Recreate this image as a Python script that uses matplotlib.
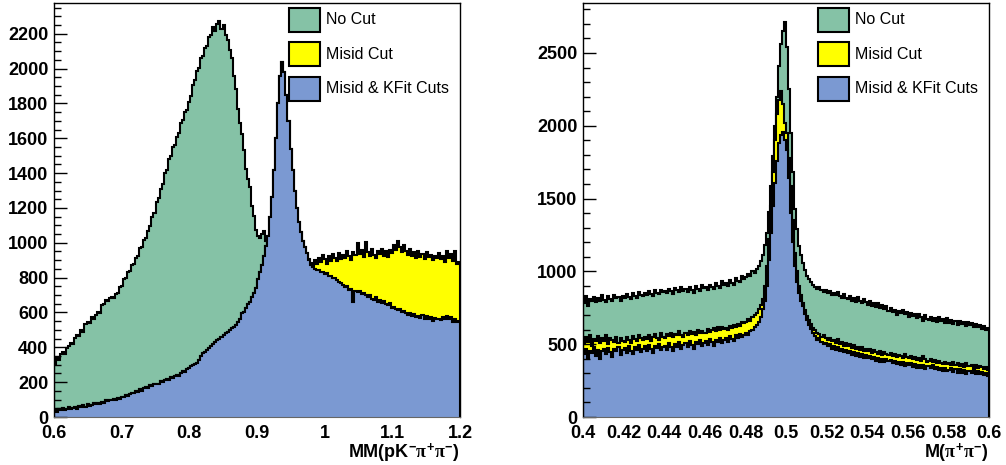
import numpy as np
import matplotlib
matplotlib.use("Agg")
import matplotlib.pyplot as plt
from matplotlib.patches import Rectangle
from matplotlib.ticker import MultipleLocator, FormatStrFormatter

plt.rcParams["font.family"] = "Liberation Sans"
plt.rcParams["font.weight"] = "bold"
plt.rcParams["mathtext.fontset"] = "custom"
plt.rcParams["mathtext.rm"] = "Liberation Sans:bold"
plt.rcParams["mathtext.it"] = "Liberation Serif"

# ---- MM(pK- pi+ pi-) histograms, 0.6 - 1.2, bin width 0.003 ----
mm_range = (0.6, 1.2)
mm_nocut = [
    305, 340, 330, 362, 372, 360, 398, 410, 425, 418,
    455, 472, 466, 498, 490, 532, 545, 540, 575, 562,
    588, 605, 598, 640, 648, 672, 665, 684, 690, 682,
    705, 712, 748, 752, 790, 795, 830, 838, 872, 880,
    910, 925, 968, 978, 1018, 1030, 1068, 1095, 1150, 1172,
    1232, 1258, 1310, 1338, 1398, 1420, 1478, 1498, 1548, 1560,
    1605, 1632, 1690, 1702, 1750, 1762, 1810, 1842, 1905, 1932,
    1985, 2002, 2058, 2070, 2118, 2132, 2180, 2190, 2238, 2215,
    2255, 2270, 2228, 2250, 2195, 2165, 2105, 2060, 1960, 1885,
    1765, 1685, 1625, 1530, 1425, 1365, 1318, 1210, 1155, 1075,
    1040, 1025, 1050, 1065, 1010, 985, 950, 920, 900, 880,
    860, 840, 820, 805, 790, 775, 765, 755, 745, 735,
    725, 715, 705, 695, 685, 675, 665, 658, 650, 645,
    640, 635, 630, 625, 620, 615, 610, 605, 600, 595,
    590, 585, 580, 576, 572, 568, 564, 560, 556, 552,
    548, 544, 540, 536, 532, 528, 524, 520, 516, 512,
    508, 504, 500, 497, 494, 491, 488, 485, 482, 479,
    476, 473, 470, 468, 466, 464, 462, 460, 458, 456,
    454, 452, 450, 448, 446, 444, 442, 440, 438, 436,
    434, 432, 430, 428, 426, 424, 422, 420, 418, 416,
]
mm_kfit = [
    42, 30, 45, 38, 50, 40, 48, 55, 44, 52,
    58, 48, 62, 55, 68, 60, 72, 66, 70, 78,
    74, 82, 76, 88, 80, 95, 90, 100, 96, 104,
    100, 110, 106, 115, 112, 125, 120, 132, 138, 135,
    148, 145, 158, 152, 165, 170, 168, 182, 178, 190,
    192, 188, 205, 200, 212, 218, 215, 230, 226, 238,
    242, 238, 255, 262, 258, 275, 282, 290, 298, 305,
    312, 325, 350, 368, 372, 385, 398, 405, 420, 428,
    440, 445, 462, 470, 482, 488, 500, 512, 518, 530,
    548, 560, 595, 605, 625, 648, 660, 690, 712, 740,
    790, 830, 870, 922, 980, 1040, 1150, 1260, 1420, 1600,
    1800, 1960, 2035, 1980, 1850, 1700, 1540, 1420, 1300, 1200,
    1120, 1060, 1010, 975, 940, 900, 872, 860, 852, 845,
    842, 830, 835, 818, 825, 808, 812, 795, 800, 786,
    775, 768, 760, 748, 752, 730, 735, 660, 722, 715,
    722, 705, 712, 698, 690, 702, 680, 672, 690, 662,
    670, 655, 668, 648, 640, 655, 625, 632, 620, 612,
    618, 600, 608, 595, 585, 598, 580, 590, 575, 582,
    570, 585, 562, 578, 560, 575, 552, 570, 560, 565,
    558, 572, 565, 580, 560, 575, 548, 562, 545, 550,
]
# misid cut follows the kfit histogram up to the peak
mm_misid = mm_kfit[:120] + [
    1120, 1060, 1010, 975, 940, 905, 885, 870, 900, 880,
    915, 890, 930, 905, 880, 925, 898, 935, 910, 895,
    940, 905, 930, 912, 955, 925, 900, 948, 930, 1000,
    935, 960, 918, 1005, 945, 925, 962, 930, 910, 955,
    938, 965, 925, 950, 920, 958, 940, 985, 960, 1010,
    975, 948, 990, 955, 930, 962, 925, 945, 915, 950,
    920, 935, 905, 948, 918, 930, 900, 925, 910, 940,
    905, 925, 890, 955, 915, 935, 895, 950, 880, 890,
]

# ---- M(pi+ pi-) histograms, 0.4 - 0.6, bin width 0.001 ----
mpp_range = (0.4, 0.6)
mpp_nocut = [
    780, 830, 760, 810, 795, 825, 790, 815, 800, 835,
    805, 790, 828, 812, 798, 840, 815, 822, 800, 832,
    818, 845, 825, 810, 850, 832, 818, 858, 840, 828,
    852, 835, 865, 848, 830, 870, 855, 842, 875, 858,
    868, 850, 880, 862, 845, 885, 870, 858, 890, 865,
    878, 860, 892, 872, 855, 900, 880, 868, 905, 885,
    895, 875, 910, 890, 878, 920, 898, 885, 935, 905,
    918, 900, 940, 922, 910, 955, 935, 925, 970, 945,
    962, 980, 965, 1000, 990, 1015, 1040, 1070, 1110, 1180,
    1264, 1410, 1584, 1790, 2000, 2200, 2410, 2560, 2650, 2710,
    2540, 2250, 1950, 1680, 1430, 1290, 1175, 1110, 1060, 1010,
    970, 945, 925, 905, 890, 880, 895, 870, 860, 875,
    850, 868, 840, 855, 835, 860, 830, 815, 845, 820,
    808, 830, 800, 815, 790, 822, 798, 780, 810, 788,
    770, 795, 762, 780, 755, 785, 748, 770, 740, 765,
    725, 748, 720, 738, 700, 730, 712, 735, 705, 722,
    690, 712, 695, 705, 680, 708, 685, 660, 698, 675,
    668, 690, 660, 680, 652, 685, 662, 670, 645, 678,
    648, 665, 640, 658, 630, 662, 642, 655, 625, 650,
    635, 648, 620, 640, 615, 632, 605, 625, 598, 610,
]
mpp_misid = [
    500, 548, 515, 560, 490, 535, 520, 555, 505, 540,
    525, 560, 498, 545, 530, 515, 552, 508, 540, 525,
    512, 548, 530, 505, 555, 535, 520, 562, 540, 528,
    550, 538, 565, 522, 548, 570, 545, 532, 575, 552,
    540, 568, 555, 580, 548, 572, 560, 588, 565, 550,
    578, 560, 592, 570, 585, 562, 598, 575, 590, 580,
    575, 605, 585, 598, 612, 590, 620, 600, 615, 605,
    610, 598, 625, 612, 635, 620, 640, 628, 650, 645,
    655, 670, 662, 685, 700, 715, 740, 770, 810, 900,
    1035, 1220, 1447, 1680, 1905, 2080, 2180, 2240, 2150, 2020,
    1951, 1780, 1584, 1350, 1126, 1000, 897, 840, 783, 735,
    691, 665, 640, 610, 595, 577, 570, 550, 560, 540,
    531, 545, 520, 528, 505, 535, 498, 515, 490, 505,
    485, 500, 472, 495, 468, 482, 460, 478, 455, 470,
    451, 465, 440, 458, 445, 430, 452, 425, 448, 435,
    428, 440, 418, 435, 410, 425, 420, 405, 430, 412,
    405, 418, 395, 410, 390, 402, 385, 420, 398, 380,
    382, 395, 375, 390, 368, 385, 372, 362, 380, 365,
    371, 360, 378, 355, 368, 350, 365, 345, 372, 352,
    348, 360, 340, 355, 335, 350, 342, 330, 345, 325,
]
mpp_kfit = [
    430, 470, 405, 455, 440, 478, 420, 462, 395, 450,
    465, 432, 475, 445, 415, 468, 452, 480, 428, 460,
    472, 440, 485, 455, 430, 478, 462, 492, 448, 470,
    485, 455, 495, 468, 440, 488, 472, 500, 458, 480,
    490, 462, 505, 478, 455, 498, 482, 512, 470, 492,
    505, 478, 520, 495, 470, 512, 498, 528, 485, 508,
    520, 495, 535, 512, 490, 530, 518, 545, 505, 528,
    540, 515, 555, 535, 520, 560, 545, 572, 550, 565,
    575, 560, 590, 600, 615, 630, 655, 690, 740, 800,
    900, 1080, 1264, 1450, 1607, 1760, 1882, 1940, 1960, 1900,
    1836, 1640, 1401, 1200, 1035, 930, 852, 800, 760, 710,
    668, 635, 605, 580, 555, 531, 540, 515, 500, 510,
    485, 498, 470, 488, 462, 478, 455, 470, 448, 462,
    440, 455, 428, 448, 420, 438, 412, 432, 405, 425,
    405, 418, 395, 412, 388, 405, 380, 400, 375, 395,
    382, 392, 368, 388, 362, 380, 355, 375, 350, 372,
    359, 370, 345, 365, 340, 360, 335, 355, 330, 352,
    348, 338, 355, 328, 345, 322, 340, 318, 338, 315,
    325, 335, 312, 330, 305, 328, 300, 322, 296, 318,
    314, 305, 322, 298, 315, 292, 310, 288, 305, 285,
]

labels = ["No Cut", "Misid Cut", "Misid & KFit Cuts"]
colors = ["#85c2a6", "#ffff00", "#7b99d2"]


def draw_hists(ax, rng, series):
    for vals, col in zip(series, colors):
        edges = np.linspace(rng[0], rng[1], len(vals) + 1)
        ax.stairs(vals, edges, fill=True, color=col, lw=0)
        ax.stairs(vals, edges, color="black", lw=1.5)
    ax.set_xlim(*rng)


def draw_legend(ax):
    for k, (lab, col) in enumerate(zip(labels, colors)):
        top = 0.988 - k * 0.0833
        ax.add_patch(Rectangle((0.579, top - 0.058), 0.0764, 0.058, transform=ax.transAxes,
                               facecolor=col, edgecolor="black", lw=1.5, zorder=5))
        ax.text(0.670, top - 0.029, lab, transform=ax.transAxes, fontsize=11.5,
                fontweight="normal", va="center", ha="left", zorder=5)


def style_axes(ax, ymax, major, minor, xmajor, xlabel):
    ax.set_ylim(0, ymax)
    ax.yaxis.set_major_locator(MultipleLocator(major))
    ax.yaxis.set_minor_locator(MultipleLocator(minor))
    ax.xaxis.set_major_locator(MultipleLocator(xmajor))
    ax.xaxis.set_major_formatter(FormatStrFormatter("%g"))
    ax.tick_params(axis="y", which="major", direction="in", length=9, width=1, labelsize=13, pad=4)
    ax.tick_params(axis="y", which="minor", direction="in", length=5, width=1)
    ax.tick_params(axis="x", which="both", length=0, labelsize=13, pad=6)
    for side in ["left", "top", "right"]:
        ax.spines[side].set_linewidth(1.0)
    ax.spines["bottom"].set_color("#666666")
    ax.text(1.0, -0.088, xlabel, transform=ax.transAxes, ha="right", va="center", fontsize=13)


fig = plt.figure(figsize=(10.06, 4.65), dpi=100)
ax1 = fig.add_axes([0.0537, 0.1032, 0.4036, 0.8903])
ax2 = fig.add_axes([0.5795, 0.1032, 0.4036, 0.8903])

draw_hists(ax1, mm_range, [mm_nocut, mm_misid, mm_kfit])
style_axes(ax1, 2376, 200, 50, 0.1, r"MM(pK$^{-}\pi^{+}\pi^{-}$)")
draw_legend(ax1)

draw_hists(ax2, mpp_range, [mpp_nocut, mpp_misid, mpp_kfit])
style_axes(ax2, 2843, 500, 100, 0.02, r"M($\pi^{+}\pi^{-}$)")
draw_legend(ax2)

fig.savefig("out.png", dpi=100)
